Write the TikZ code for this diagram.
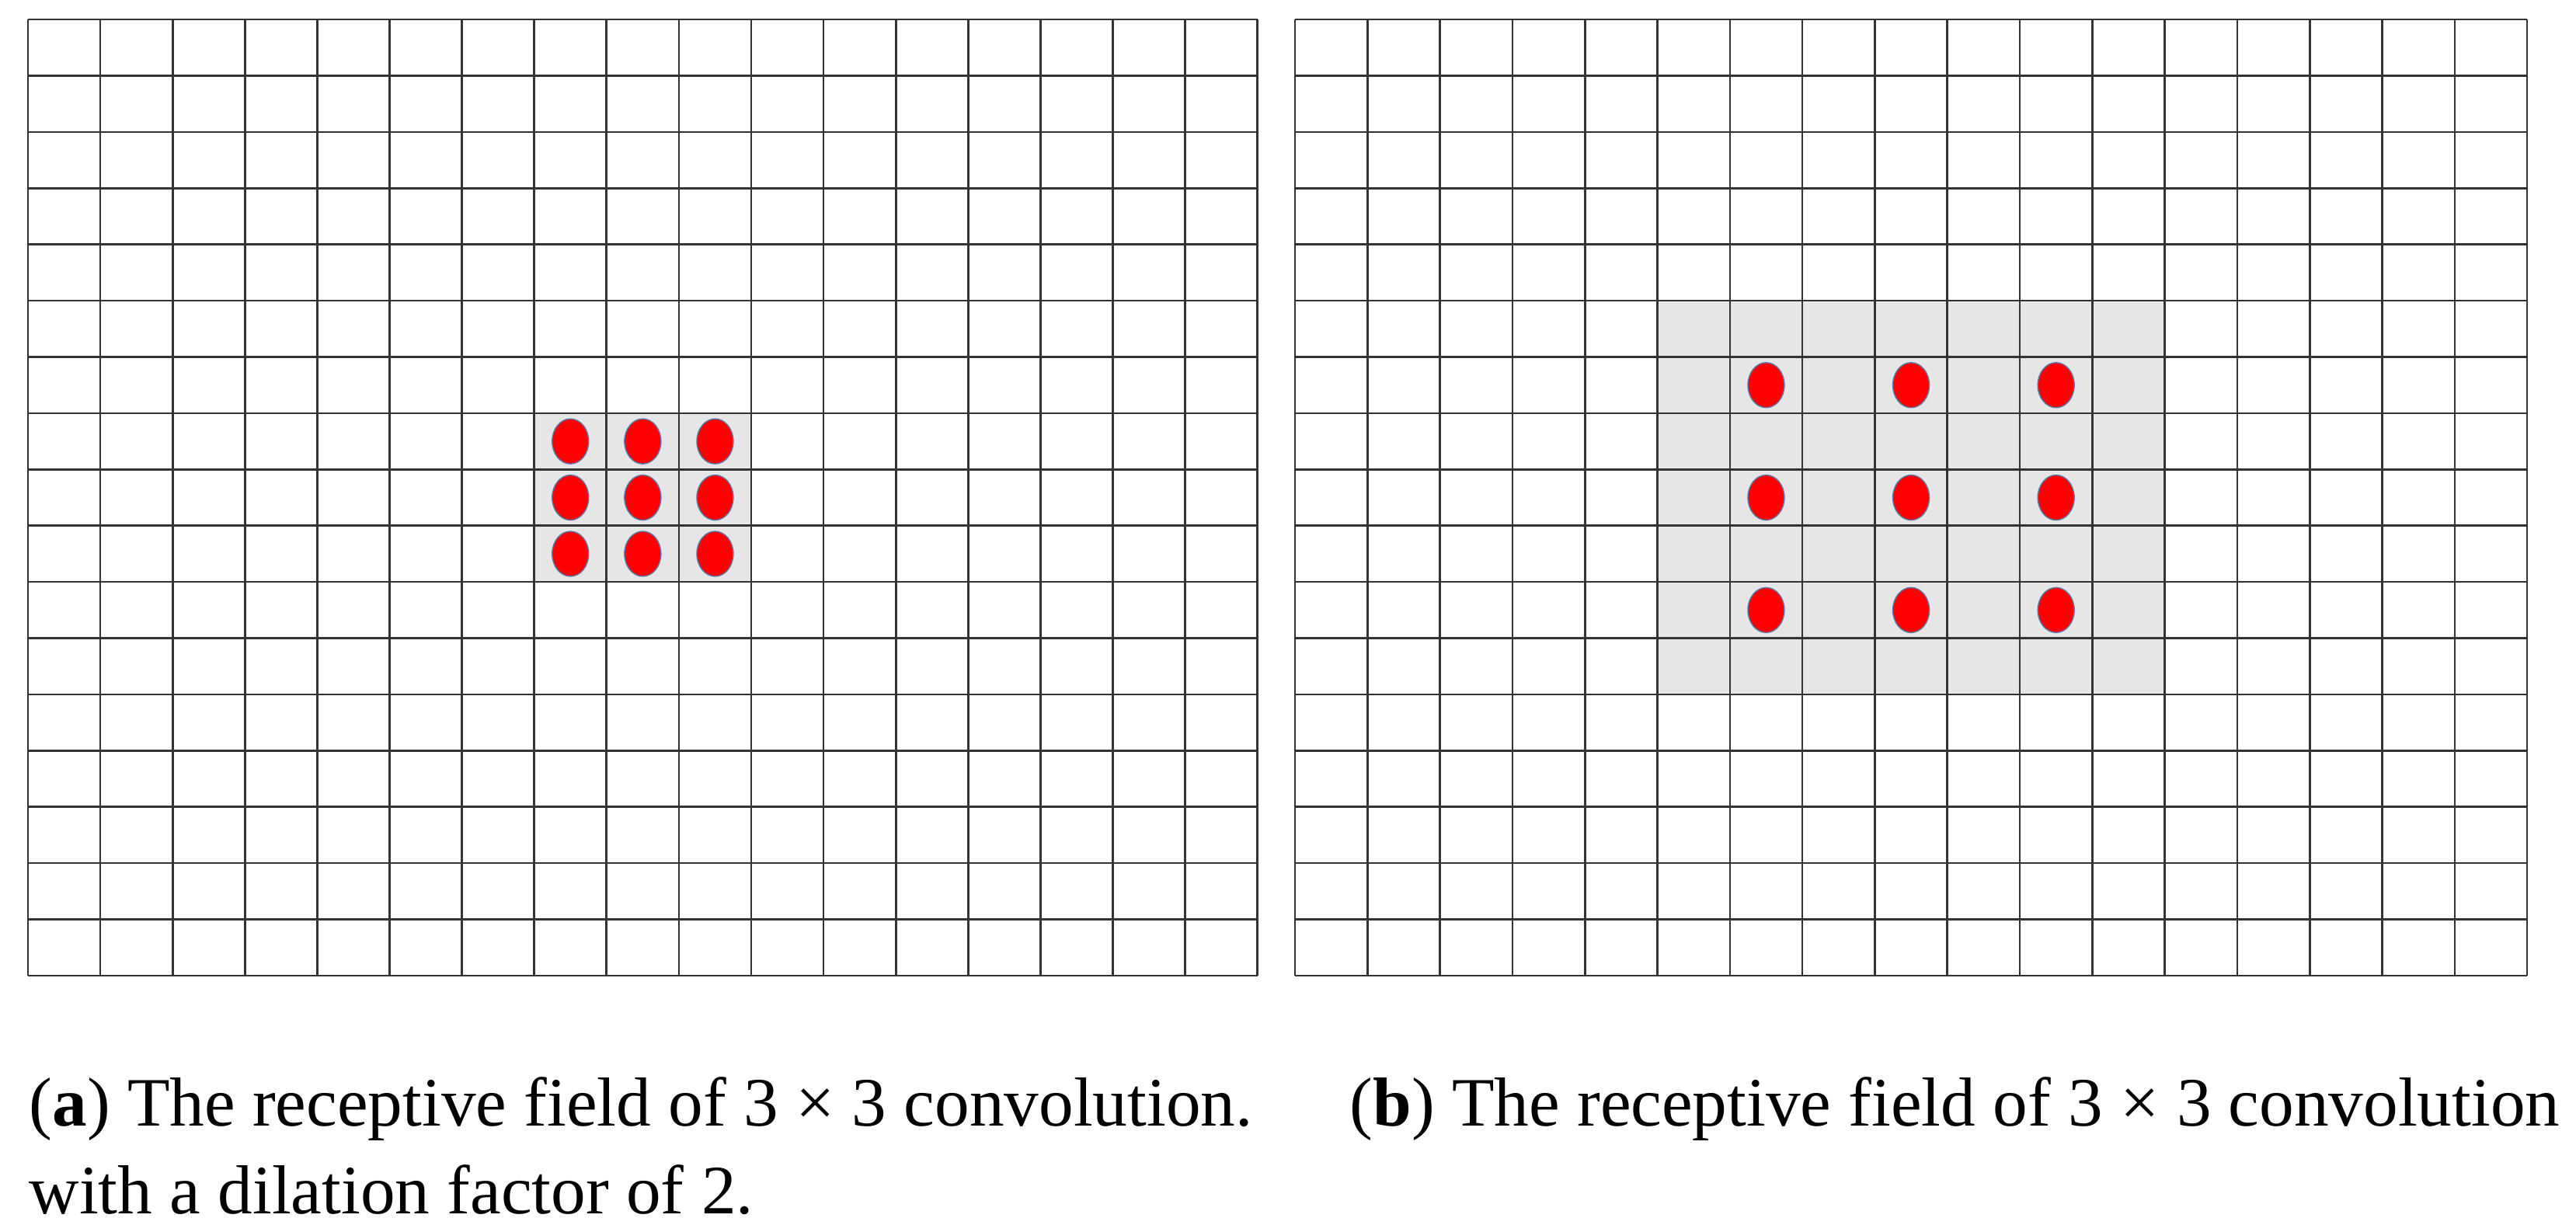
\documentclass[tikz,border=0pt]{standalone}
\usepackage{fontspec}
\setmainfont{Liberation Serif}
\usepackage{tikz}
\usetikzlibrary{shapes.geometric}
\definecolor{rfline}{HTML}{333333}
\definecolor{rfshade}{HTML}{E6E6E6}
\definecolor{rfred}{HTML}{FF0000}
\definecolor{rfrim}{HTML}{5A78A8}

\begin{document}
\begin{tikzpicture}[
 gridline/.style={draw=rfline,line width=0.75pt},
 rffield/.style={fill=rfshade},
 rfdot/.style={ellipse,fill=rfred,draw=rfrim,line width=0.4pt,minimum width=4.7mm,minimum height=5.8mm,inner sep=0pt},
 rfcaption/.style={anchor=base west,inner sep=0pt,font=\fontsize{25.4}{32}\selectfont}
]
\useasboundingbox[fill=white] (0,0) rectangle (33.16,15.86);
% (a) plain 3x3 kernel
\begin{scope}[shift={(0.36,3.30)},x=0.931cm,y=0.724cm]
\fill[rffield] (7,7) rectangle (10,10);
\draw[gridline,step=1] (0,0) grid (17.001,17.001);
\foreach \i in {7,8,9}
  \foreach \j in {7,8,9}
    \node[rfdot] (adot-\i-\j) at (\i+0.5,\j+0.5) {};
\end{scope}
% (b) dilated kernel, every second cell
\begin{scope}[shift={(16.67,3.30)},x=0.933cm,y=0.724cm]
\fill[rffield] (5,5) rectangle (12,12);
\draw[gridline,step=1] (0,0) grid (17.001,17.001);
\foreach \i in {6,8,10}
  \foreach \j in {6,8,10}
    \node[rfdot] (bdot-\i-\j) at (\i+0.5,\j+0.5) {};
\end{scope}
\node[rfcaption] (capa) at (0.37,1.36) {(\textbf{a}) The receptive field of 3 × 3 convolution.};
\node[rfcaption] (capa2) at (0.37,0.23) {with a dilation factor of 2.};
\node[rfcaption] (capb) at (17.37,1.36) {(\textbf{b}) The receptive field of 3 × 3 convolution};
\end{tikzpicture}
\end{document}
